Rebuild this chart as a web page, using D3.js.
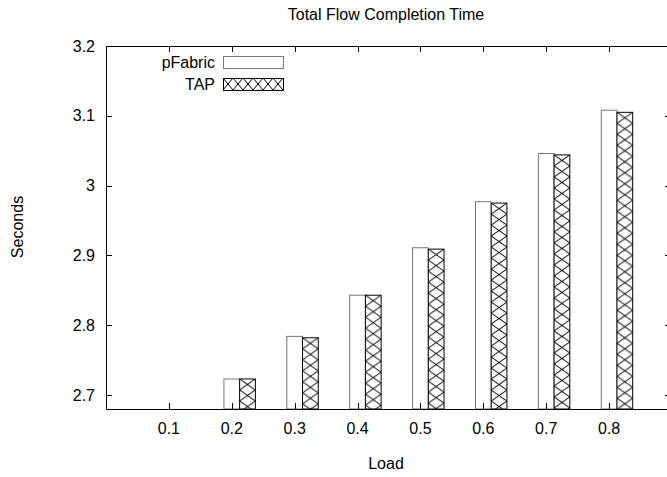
<!DOCTYPE html>
<html>
<head>
<meta charset="utf-8">
<script src="https://cdn.jsdelivr.net/npm/d3@7"></script>
<style>
  body { margin: 0; background: #fff; }
  text { font-family: "Liberation Sans", Arial, sans-serif; fill: #000; }
</style>
</head>
<body>
<div id="chart"></div>
<script>
// data
var loads = ["0.1", "0.2", "0.3", "0.4", "0.5", "0.6", "0.7", "0.8"];
var pFabric = [2.66, 2.723, 2.784, 2.843, 2.911, 2.977, 3.046, 3.108];
var tap = [2.66, 2.723, 2.782, 2.843, 2.909, 2.975, 3.044, 3.105];
var yTicks = [2.7, 2.8, 2.9, 3, 3.1, 3.2];
var seriesNames = ["pFabric", "TAP"];

var W = 667, H = 477;
var plotL = 106, plotR = 672, plotT = 46, plotB = 409;

var svg = d3.select("#chart").append("svg")
    .attr("width", W)
    .attr("height", H);

// x is the category index, like gnuplot histogram [-1:8]
var x = d3.scaleLinear().domain([-1, 8]).range([plotL, plotR]);
var y = d3.scaleLinear().domain([2.68, 3.2]).range([plotB, plotT]);
var boxW = x(0.25) - x(0);

var defs = svg.append("defs");
defs.append("clipPath").attr("id", "plotclip")
  .append("rect")
    .attr("x", plotL).attr("y", plotT)
    .attr("width", plotR - plotL).attr("height", plotB - plotT);

// crosshatch pattern, one per box so it lines up with the box edges
function hatch(id, px, py, pw, ph) {
    var p = defs.append("pattern")
        .attr("id", id)
        .attr("patternUnits", "userSpaceOnUse")
        .attr("x", px).attr("y", py)
        .attr("width", pw).attr("height", ph);
    p.append("rect").attr("width", pw).attr("height", ph).attr("fill", "#fff");
    p.append("path")
        .attr("d", "M0,0L" + pw + "," + ph + "M0," + ph + "L" + pw + ",0")
        .attr("stroke", "#000").attr("stroke-width", 1).attr("fill", "none");
}

var rows = loads.map(function(d, i) {
    return { i: i, load: d, p: pFabric[i], t: tap[i] };
});

var bars = svg.append("g").attr("clip-path", "url(#plotclip)");

bars.selectAll(".pf")
    .data(rows)
  .enter().append("rect")
    .attr("class", "pf")
    .attr("x", function(d) { return x(d.i - 0.125); })
    .attr("y", function(d) { return y(d.p); })
    .attr("width", boxW)
    .attr("height", function(d) { return Math.max(0, y(2.68) - y(d.p)); })
    .attr("fill", "#fff")
    .attr("stroke", "#777")
    .attr("stroke-width", 1);

rows.forEach(function(d) {
    hatch("h" + d.i, x(d.i + 0.125), y(d.t), boxW, 11);
});

bars.selectAll(".tap")
    .data(rows)
  .enter().append("rect")
    .attr("class", "tap")
    .attr("x", function(d) { return x(d.i + 0.125); })
    .attr("y", function(d) { return y(d.t); })
    .attr("width", boxW)
    .attr("height", function(d) { return Math.max(0, y(2.68) - y(d.t)); })
    .attr("fill", function(d) { return "url(#h" + d.i + ")"; })
    .attr("stroke", "#000")
    .attr("stroke-width", 1);

// frame
svg.append("path")
    .attr("d", "M" + (plotR + 0.5) + "," + (plotT + 0.5) + "H" + (plotL + 0.5) + "V" + (plotB + 0.5) + "H" + (plotR + 0.5) + "Z")
    .attr("stroke", "#000").attr("stroke-width", 1).attr("fill", "none");

// y ticks both sides
var yt = svg.append("g");
yt.selectAll(".yl").data(yTicks).enter().append("line")
    .attr("x1", plotL).attr("x2", plotL + 6)
    .attr("y1", function(d) { return Math.round(y(d)) + 0.5; })
    .attr("y2", function(d) { return Math.round(y(d)) + 0.5; })
    .attr("stroke", "#000");
yt.selectAll(".yr").data(yTicks).enter().append("line")
    .attr("x1", plotR - 7).attr("x2", plotR)
    .attr("y1", function(d) { return Math.round(y(d)) + 0.5; })
    .attr("y2", function(d) { return Math.round(y(d)) + 0.5; })
    .attr("stroke", "#000");
yt.selectAll("text").data(yTicks).enter().append("text")
    .attr("x", plotL - 11)
    .attr("y", function(d) { return y(d); })
    .attr("dy", "0.35em")
    .attr("text-anchor", "end")
    .style("font-size", "16px")
    .text(function(d) { return d3.format("")(d); });

// x ticks top and bottom
var xt = svg.append("g");
xt.selectAll(".xb").data(rows).enter().append("line")
    .attr("x1", function(d) { return Math.round(x(d.i)) + 0.5; })
    .attr("x2", function(d) { return Math.round(x(d.i)) + 0.5; })
    .attr("y1", plotB).attr("y2", plotB - 6)
    .attr("stroke", "#000");
xt.selectAll(".xt").data(rows).enter().append("line")
    .attr("x1", function(d) { return Math.round(x(d.i)) + 0.5; })
    .attr("x2", function(d) { return Math.round(x(d.i)) + 0.5; })
    .attr("y1", plotT).attr("y2", plotT + 6)
    .attr("stroke", "#000");
xt.selectAll("text").data(rows).enter().append("text")
    .attr("x", function(d) { return x(d.i); })
    .attr("y", plotB + 25)
    .attr("text-anchor", "middle")
    .style("font-size", "16px")
    .text(function(d) { return d.load; });

// titles
svg.append("text")
    .attr("x", 386).attr("y", 20)
    .attr("text-anchor", "middle")
    .style("font-size", "16px")
    .text("Total Flow Completion Time");
svg.append("text")
    .attr("x", 386).attr("y", 469)
    .attr("text-anchor", "middle")
    .style("font-size", "16px")
    .text("Load");
svg.append("text")
    .attr("transform", "translate(23,227) rotate(-90)")
    .attr("text-anchor", "middle")
    .style("font-size", "16px")
    .text("Seconds");

// legend
var leg = svg.append("g");
hatch("hleg", 223, 78, 10, 12);
seriesNames.forEach(function(name, j) {
    var ly = 56 + j * 22;
    leg.append("text")
        .attr("x", 215).attr("y", ly + 6)
        .attr("dy", "0.35em")
        .attr("text-anchor", "end")
        .style("font-size", "16px")
        .text(name);
    leg.append("rect")
        .attr("x", 223.5).attr("y", ly + 0.5)
        .attr("width", 60).attr("height", 12)
        .attr("fill", j === 0 ? "#fff" : "url(#hleg)")
        .attr("stroke", j === 0 ? "#777" : "#000");
});
</script>
</body>
</html>
